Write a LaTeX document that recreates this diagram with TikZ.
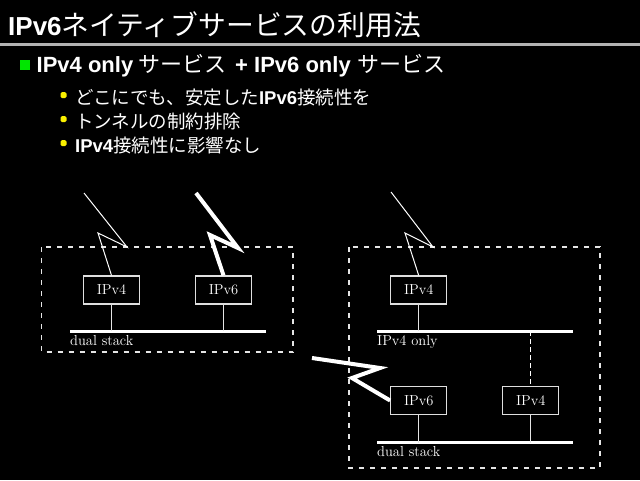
\documentclass[tikz,border=0pt]{standalone}
\usepackage{fontspec}
\newfontfamily\jpfont{Noto Sans CJK JP}
\newfontfamily\hvfont{Liberation Sans}
\usepackage{tikz}
\usetikzlibrary{arrows.meta,positioning,calc}
\definecolor{bulgreen}{RGB}{0,230,0}
\definecolor{bulyellow}{RGB}{250,240,0}
\definecolor{rulegray}{RGB}{178,178,178}
\tikzset{
  hostbox/.style={draw=white!75!gray, line width=1.2pt, minimum width=56pt, minimum height=28pt, text=white, font=\fontsize{14.5}{16}\selectfont},
  busline/.style={white, line width=3pt},
  stub/.style={white!80!gray, line width=1pt},
  lbl/.style={text=white, inner sep=0pt, font=\fontsize{14.5}{16}\selectfont},
  areabox/.style={white!80!gray, line width=1.2pt, dash pattern=on 5pt off 6pt},
  thinbolt/.style={white, line width=1pt},
  thickbolt/.style={white, line width=4pt},
}

\begin{document}
\begin{tikzpicture}[x=1pt, y=-1pt]
  \fill[black] (0,0) rectangle (640,480);
  \useasboundingbox (0,0) rectangle (640,480);
  \node[anchor=base west, inner sep=0pt, text=white] (title) at (8,35)
    {\fontsize{26}{28}\selectfont\hvfont\bfseries IPv6\jpfont\mdseries\fontsize{27.8}{28}\selectfont ネイティブサービスの利用法};
  \draw[rulegray, line width=3pt] (0,44) -- (640,44);
  \fill[bulgreen] (20,60) rectangle (30,70);
  \node[anchor=base west, inner sep=0pt, text=white] (pt0) at (36.5,72)
    {\fontsize{22}{24}\selectfont\hvfont\bfseries IPv4 only\jpfont\mdseries{} サービス\hspace{9pt}\hvfont\bfseries + IPv6 only\jpfont\mdseries\hspace{2pt} サービス};
  \foreach \y/\t in {104/{どこにでも、安定した\hvfont\bfseries IPv6\jpfont\mdseries 接続性を},
                     128/{トンネルの制約排除},
                     152/{\hvfont\bfseries IPv4\jpfont\mdseries 接続性に影響なし}} {
    \fill[bulyellow, rounded corners=1.5pt] (60.5,\y-12) rectangle (66.5,\y-6);
    \node[anchor=base west, inner sep=0pt, text=white] at (75,\y)
      {\fontsize{18.5}{20}\selectfont\jpfont \t};
  }

  \draw[areabox] (41.5,247) rectangle (293,352);
  \draw[areabox] (349,247) rectangle (600,468);

  \node[hostbox] (L4) at (111.5,290) {IPv4};
  \node[hostbox] (L6) at (223.5,290) {IPv6};
  \coordinate (LbusA) at (70,331);
  \coordinate (LbusB) at (266,331);
  \draw[busline] (LbusA) -- (LbusB);
  \node[lbl, below right=4pt and 0pt of LbusA] (Llbl) {dual stack};
  \draw[stub] (L4.south) -- (L4.south |- LbusA);
  \draw[stub] (L6.south) -- (L6.south |- LbusA);
  \draw[thinbolt] (84,193) -- (127,247) -- (98,233) -- (L4.north);
  \draw[thickbolt] (196,193) -- (238,248) -- (210,235) -- (L6.north);

  \node[hostbox] (R4) at (418.7,290) {IPv4};
  \node[hostbox] (R6) at (418.7,400.5) {IPv6};
  \node[hostbox] (R4b) at (530.7,400.5) {IPv4};
  \coordinate (RbusA) at (377,331);
  \coordinate (RbusB) at (573,331);
  \coordinate (RbusC) at (377,442.5);
  \coordinate (RbusD) at (573,442.5);
  \draw[busline] (RbusA) -- (RbusB);
  \draw[busline] (RbusC) -- (RbusD);
  \node[lbl, below right=4pt and 0pt of RbusA] (Rlbl1) {IPv4 only};
  \node[lbl, below right=4pt and 0pt of RbusC] (Rlbl2) {dual stack};
  \draw[stub] (R4.south) -- (R4.south |- RbusA);
  \draw[stub] (R6.south) -- (R6.south |- RbusC);
  \draw[stub] (R4b.south) -- (R4b.south |- RbusC);
  \draw[white, line width=1pt, dash pattern=on 5pt off 3pt] (R4b.north |- RbusA) -- (R4b.north);
  \draw[thinbolt] (391,192) -- (433,247) -- (405,233) -- (R4.north);
  \draw[thickbolt] (312,358) -- (380,368) -- (352,378) -- (R6.west);
\end{tikzpicture}
\end{document}
